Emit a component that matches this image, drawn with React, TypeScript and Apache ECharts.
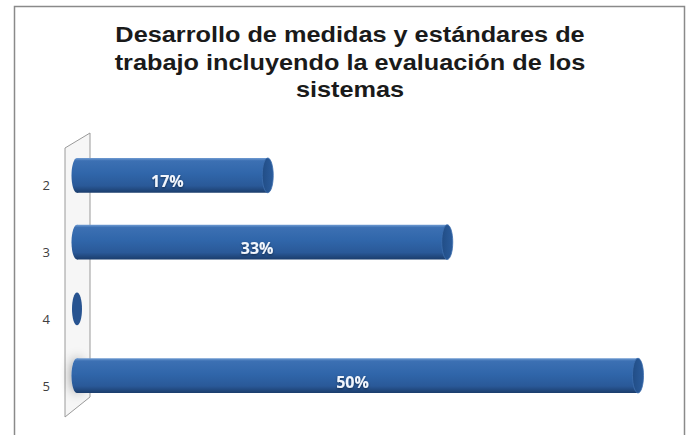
import React, { useEffect, useRef } from "react";
import * as echarts from "echarts";

const titleLines = [
  "Desarrollo de medidas y estándares de",
  "trabajo incluyendo la evaluación de los",
  "sistemas",
];
const categories = ["2", "3", "4", "5"];
const percentValues = [17, 33, 0, 50];

export default function App() {
  const ref = useRef<HTMLDivElement>(null);
  useEffect(() => {
    if (!ref.current) return;
    const chart = echarts.init(ref.current, null, { renderer: "svg" });
    const data = percentValues.map((v, i) => [v, i]);

    const renderItem = (params: any, api: any) => {
      const val = api.value(0);
      const cat = api.value(1);
      const start = api.coord([0, cat]);
      const end = api.coord([val, cat]);
      const h = api.size([0, 1])[1] * 0.52;
      const rx = 5.5;
      const top = start[1] - h / 2;
      const bodyFill = new echarts.graphic.LinearGradient(0, 0, 0, 1, [
        { offset: 0, color: "#6f9bd2" },
        { offset: 0.08, color: "#3c70b3" },
        { offset: 0.45, color: "#3066aa" },
        { offset: 0.8, color: "#2a5998" },
        { offset: 1, color: "#1b3d6c" },
      ]);
      const capFill = new echarts.graphic.LinearGradient(0, 0, 1, 0, [
        { offset: 0, color: "#214d86" },
        { offset: 1, color: "#2b5c9c" },
      ]);
      const children: any[] = [];
      if (val > 0) {
        children.push({
          type: "ellipse",
          shape: { cx: start[0], cy: start[1], rx, ry: h / 2 },
          style: {
            fill: bodyFill,
            shadowColor: params.dataIndex === 3 ? "rgba(0,0,0,0.45)" : "rgba(0,0,0,0)",
            shadowBlur: params.dataIndex === 3 ? 12 : 0,
          },
        });
        children.push({
          type: "rect",
          shape: { x: start[0], y: top, width: end[0] - start[0], height: h },
          style: { fill: bodyFill },
        });
        children.push({
          type: "ellipse",
          shape: { cx: end[0], cy: end[1], rx, ry: h / 2 },
          style: { fill: capFill, stroke: "#3d6fae", lineWidth: 0.8 },
        });
        children.push({
          type: "text",
          style: {
            text: Math.round(val) + "%",
            x: (start[0] + end[0]) / 2 - 5,
            y: start[1] + 6,
            align: "center",
            verticalAlign: "middle",
            fill: "#f2f6fc",
            font: 'bold 16px "Open Sans", sans-serif',
            textShadowColor: "rgba(0,0,0,0.5)",
            textShadowBlur: 2,
            textShadowOffsetY: 1,
          },
        });
      } else {
        children.push({
          type: "ellipse",
          shape: { cx: start[0], cy: start[1], rx: rx - 0.5, ry: h / 2 - 1 },
          style: { fill: "#275390" },
        });
      }
      return { type: "group", children };
    };

    chart.setOption({
      animation: false,
      backgroundColor: "#ffffff",
      graphic: [
        {
          type: "rect",
          shape: { x: 14.5, y: 6.5, width: 670, height: 440 },
          style: { fill: "none", stroke: "#8a8a8a", lineWidth: 1.5 },
          z: 0,
        },
        {
          type: "polygon",
          shape: { points: [[65, 148], [90, 133], [90, 397], [65, 417]] },
          style: { fill: "#f6f6f6", stroke: "#9a9a9a", lineWidth: 1 },
          z: 0,
        },
        {
          type: "text",
          x: 350,
          y: 21,
          scaleX: 1.15,
          style: {
            text: titleLines.join("\n"),
            align: "center",
            verticalAlign: "top",
            font: 'bold 22px "Liberation Sans", Arial, sans-serif',
            lineHeight: 27.5,
            fill: "#1a1a1a",
          },
          z: 10,
        },
      ],
      grid: { left: 77, right: 52, top: 142, height: 267 },
      xAxis: { type: "value", min: 0, max: 50, show: false },
      yAxis: {
        type: "category",
        data: categories,
        inverse: true,
        axisLine: { show: false },
        axisTick: { show: false },
        splitLine: { show: false },
        axisLabel: {
          margin: 27,
          color: "#404040",
          fontSize: 13,
          fontFamily: '"Open Sans", sans-serif',
          verticalAlign: "top",
          lineHeight: 14,
          padding: [3, 0, 0, 0],
        },
      },
      series: [
        {
          type: "custom",
          renderItem,
          encode: { x: 0, y: 1 },
          data,
          z: 5,
        },
      ],
    });
    return () => chart.dispose();
  }, []);
  return (
    <div
      ref={ref}
      style={{ position: "fixed", left: 0, top: 0, width: 690, height: 435 }}
    />
  );
}
